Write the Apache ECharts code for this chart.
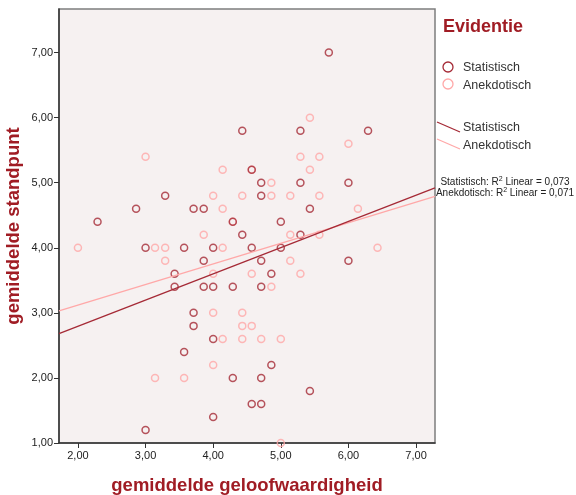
<!DOCTYPE html>
<html>
<head>
<meta charset="utf-8">
<script src="https://cdn.jsdelivr.net/npm/echarts@6/dist/echarts.min.js"></script>
<style>
  html, body { margin: 0; padding: 0; background: #fff; }
  #chart { width: 576px; height: 495px; }
</style>
</head>
<body>
<div id="chart"></div>
<script>
// waarden
const xTicks = [2, 3, 4, 5, 6, 7];
const yTicks = [1, 2, 3, 4, 5, 6, 7];

const statX = [5.71, 4.43, 5.29, 6.29, 4.57, 4.71, 5.29, 6.0, 3.29, 4.71, 2.86, 3.71, 3.86, 5.43, 2.29, 4.29, 5.0,
    4.43, 5.29, 3.0, 3.57, 4.0, 4.57, 5.0, 3.86, 4.71, 6.0, 3.43, 4.86, 3.43, 3.86, 4.0, 4.29, 4.71, 3.71, 3.71,
    4.0, 3.57, 4.86, 4.29, 4.71, 5.43, 4.57, 4.71, 4.0, 3.0];
const statY = [7.0, 5.8, 5.8, 5.8, 5.2, 5.0, 5.0, 5.0, 4.8, 4.8, 4.6, 4.6, 4.6, 4.6, 4.4, 4.4, 4.4,
    4.2, 4.2, 4.0, 4.0, 4.0, 4.0, 4.0, 3.8, 3.8, 3.8, 3.6, 3.6, 3.4, 3.4, 3.4, 3.4, 3.4, 3.0, 2.8,
    2.6, 2.4, 2.2, 2.0, 2.0, 1.8, 1.6, 1.6, 1.4, 1.2];

const anekX = [5.43, 6.0, 3.0, 5.29, 5.57, 4.14, 4.57, 5.43, 4.86, 4.0, 4.43, 4.86, 5.14, 5.57, 4.14, 6.14, 4.29,
    3.86, 5.14, 5.57, 2.0, 3.14, 3.29, 4.14, 6.43, 3.29, 5.14, 4.0, 4.57, 5.29, 4.86, 4.0, 4.43, 4.43, 4.57,
    4.14, 4.43, 4.71, 5.0, 4.0, 3.14, 3.57, 5.0];
const anekY = [6.0, 5.6, 5.4, 5.4, 5.4, 5.2, 5.2, 5.2, 5.0, 4.8, 4.8, 4.8, 4.8, 4.8, 4.6, 4.6, 4.4,
    4.2, 4.2, 4.2, 4.0, 4.0, 4.0, 4.0, 4.0, 3.8, 3.8, 3.6, 3.6, 3.6, 3.4, 3.0, 3.0, 2.8, 2.8,
    2.6, 2.6, 2.6, 2.6, 2.2, 2.0, 2.0, 1.0];

// eindpunten van de regressielijnen
const fitX = [1.72, 7.28];
const statFitY = [2.68, 4.92];
const anekFitY = [3.03, 4.79];

const DARK = '#a52a36';
const PINK = '#ffa8a8';
const TITLE_RED = '#a01c24';
const FONT = '"Liberation Sans", Arial, sans-serif';

function pairs(xs, ys) {
    return xs.map((x, i) => [x, ys[i]]);
}

const chart = echarts.init(document.getElementById('chart'), null, { renderer: 'canvas' });

const axisLabelStyle = { color: '#222', fontSize: 11, fontFamily: FONT, formatter: v => v.toFixed(2).replace('.', ',') };

const option = {
    animation: false,
    backgroundColor: '#fff',
    grid: {
        left: 59, top: 9, width: 376, height: 434,
        containLabel: false, outerBoundsMode: 'none',
        show: true, backgroundColor: '#f6f1f1', borderColor: '#7d7d7d', borderWidth: 1.5
    },
    xAxis: {
        type: 'value', min: 1.72, max: 7.28,
        name: 'gemiddelde geloofwaardigheid', nameLocation: 'middle', nameGap: 33,
        nameTextStyle: { color: TITLE_RED, fontSize: 18.5, fontWeight: 'bold', fontFamily: FONT },
        axisLine: { show: true, onZero: false, lineStyle: { color: '#333', width: 1.5 } },
        axisTick: { show: true, length: 5, customValues: xTicks, lineStyle: { color: '#333' } },
        axisLabel: Object.assign({ customValues: xTicks, margin: 7 }, axisLabelStyle),
        splitLine: { show: false }
    },
    yAxis: {
        type: 'value', min: 1, max: 7.67,
        name: 'gemiddelde standpunt', nameLocation: 'middle', nameGap: 36, nameMoveOverlap: false,
        nameTextStyle: { color: TITLE_RED, fontSize: 18.5, fontWeight: 'bold', fontFamily: FONT },
        axisLine: { show: true, onZero: false, lineStyle: { color: '#333', width: 1.5 } },
        axisTick: { show: true, length: 5, customValues: yTicks, lineStyle: { color: '#333' } },
        axisLabel: Object.assign({ customValues: yTicks, margin: 6 }, axisLabelStyle),
        splitLine: { show: false }
    },
    series: [
        {
            name: 'Anekdotisch', type: 'scatter', data: pairs(anekX, anekY),
            symbol: 'circle', symbolSize: 7,
            itemStyle: { color: 'rgba(0,0,0,0)', borderColor: PINK, borderWidth: 1.5 }
        },
        {
            name: 'Statistisch', type: 'scatter', data: pairs(statX, statY),
            symbol: 'circle', symbolSize: 7,
            itemStyle: { color: 'rgba(0,0,0,0)', borderColor: DARK, borderWidth: 1.5 }
        },
        {
            name: 'Anekdotisch fit', type: 'line', data: pairs(fitX, anekFitY),
            showSymbol: false, lineStyle: { color: PINK, width: 1.3 }
        },
        {
            name: 'Statistisch fit', type: 'line', data: pairs(fitX, statFitY),
            showSymbol: false, lineStyle: { color: DARK, width: 1.3 }
        }
    ],
    graphic: [
        { type: 'text', left: 443, top: 18, style: { text: 'Evidentie', fill: TITLE_RED, font: 'bold 18px ' + FONT } },
        { type: 'circle', shape: { cx: 448, cy: 67, r: 5 }, style: { fill: 'none', stroke: DARK, lineWidth: 1.3 } },
        { type: 'text', left: 463, top: 61, style: { text: 'Statistisch', fill: '#333', font: '12.5px ' + FONT } },
        { type: 'circle', shape: { cx: 448, cy: 84, r: 5 }, style: { fill: 'none', stroke: PINK, lineWidth: 1.3 } },
        { type: 'text', left: 463, top: 79, style: { text: 'Anekdotisch', fill: '#333', font: '12.5px ' + FONT } },
        { type: 'line', shape: { x1: 437, y1: 122, x2: 460, y2: 132 }, style: { stroke: DARK, lineWidth: 1.3 } },
        { type: 'text', left: 463, top: 121, style: { text: 'Statistisch', fill: '#333', font: '12.5px ' + FONT } },
        { type: 'line', shape: { x1: 437, y1: 139, x2: 460, y2: 149 }, style: { stroke: PINK, lineWidth: 1.3 } },
        { type: 'text', left: 463, top: 139, style: { text: 'Anekdotisch', fill: '#333', font: '12.5px ' + FONT } },
        {
            type: 'text', x: 505, y: 182,
            style: {
                text: 'Statistisch: R{s|2} Linear = 0,073', fill: '#222', font: '10px ' + FONT,
                align: 'center', verticalAlign: 'middle',
                rich: { s: { fontSize: 7, verticalAlign: 'top', padding: [0, 0, 5, 0] } }
            }
        },
        {
            type: 'text', x: 505, y: 193,
            style: {
                text: 'Anekdotisch: R{s|2} Linear = 0,071', fill: '#222', font: '10px ' + FONT,
                align: 'center', verticalAlign: 'middle',
                rich: { s: { fontSize: 7, verticalAlign: 'top', padding: [0, 0, 5, 0] } }
            }
        }
    ]
};

chart.setOption(option);
</script>
</body>
</html>
